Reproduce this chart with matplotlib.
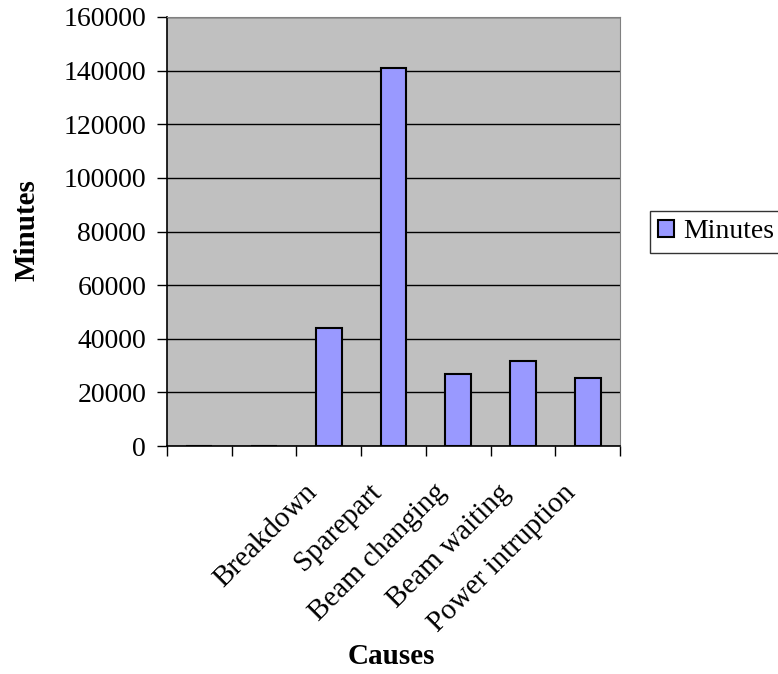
import matplotlib.pyplot as plt
from matplotlib.transforms import offset_copy

plt.rcParams['font.family'] = ['Liberation Serif', 'DejaVu Serif']

causes = ["", "", "Breakdown", "Sparepart", "Beam changing", "Beam waiting", "Power intruption"]
minutes = [0, 0, 44000, 141000, 26800, 31700, 25300]
y_ticks = [0, 20000, 40000, 60000, 80000, 100000, 120000, 140000, 160000]

fig = plt.figure(figsize=(7.78, 6.74), dpi=100)
ax = fig.add_axes([167 / 778, 1 - 446 / 674, (620 - 167) / 778, (446 - 17) / 674])

ax.set_facecolor("#c0c0c0")
x = list(range(len(causes)))
bars = ax.bar([i + 0.5 for i in x], minutes, width=0.4, color="#9999ff",
              edgecolor="black", linewidth=1.5, label="Minutes", zorder=3)

ax.set_xlim(0, len(causes))
ax.set_ylim(0, 160000)
ax.set_yticks(y_ticks)
ax.set_yticklabels([str(v) for v in y_ticks], fontsize=20)
ax.yaxis.grid(True, color="black", linewidth=1, zorder=1)

# ticks on category boundaries, labels on centres
ax.set_xticks(range(len(causes) + 1))
ax.set_xticklabels([])
lbl_tr = offset_copy(ax.get_xaxis_transform(), fig=fig, x=-18, y=-24, units="points")
for i, name in enumerate(causes):
    ax.text(i + 0.5, 0, name, transform=lbl_tr,
            rotation=45, ha="right", va="top", rotation_mode="anchor", fontsize=21)

ax.tick_params(axis="both", direction="out", length=7, width=1, color="black")
ax.tick_params(axis="y", pad=8)
for side in ["top", "right"]:
    ax.spines[side].set_color("#808080")
for side in ["left", "bottom"]:
    ax.spines[side].set_color("black")
    ax.spines[side].set_linewidth(1.2)

fig.text(27 / 778, 1 - 230 / 674, "Minutes", fontsize=21, fontweight="bold",
         rotation=90, ha="center", va="center")
fig.text(391 / 778, 1 - 657 / 674, "Causes", fontsize=21, fontweight="bold",
         ha="center", va="center")

leg = fig.legend(handles=[bars], labels=["Minutes"], loc="center left",
                 bbox_to_anchor=(650 / 778, 1 - 232 / 674), fontsize=20,
                 frameon=True, fancybox=False, edgecolor="black",
                 handlelength=0.55, handleheight=0.55, borderpad=0.3,
                 handletextpad=0.33, borderaxespad=0)
leg.get_frame().set_linewidth(1)

fig.savefig("out.png", dpi=100)
